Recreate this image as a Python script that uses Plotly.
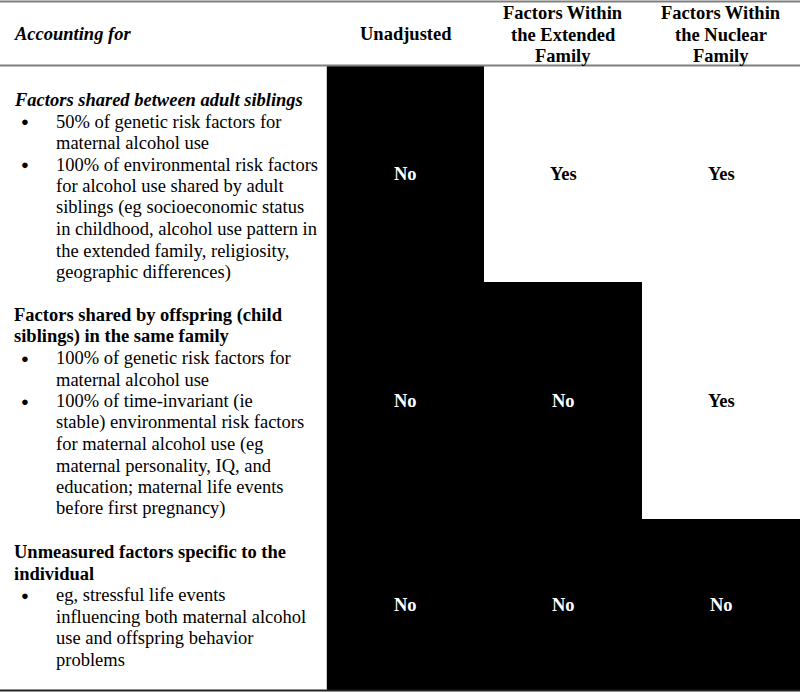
import plotly.graph_objects as go

# ---- data ----
col_headers = ["Unadjusted", "Factors Within<br>the Extended<br>Family", "Factors Within<br>the Nuclear<br>Family"]
corner_header = "Accounting for"
row_headings = [
    ["Factors shared between adult siblings"],
    ["Factors shared by offspring (child", "siblings) in the same family"],
    ["Unmeasured factors specific to the", "individual"],
]
row_heading_italic = [True, False, False]
row_bullets = [
    [["50% of genetic risk factors for", "maternal alcohol use"],
     ["100% of environmental risk factors", "for alcohol use shared by adult",
      "siblings (eg socioeconomic status", "in childhood, alcohol use pattern in",
      "the extended family, religiosity,", "geographic differences)"]],
    [["100% of genetic risk factors for", "maternal alcohol use"],
     ["100% of time-invariant (ie", "stable) environmental risk factors",
      "for maternal alcohol use (eg", "maternal personality, IQ, and",
      "education; maternal life events", "before first pregnancy)"]],
    [["eg, stressful life events", "influencing both maternal alcohol",
      "use and offspring behavior", "problems"]],
]
cell_values = [
    ["No", "Yes", "Yes"],
    ["No", "No", "Yes"],
    ["No", "No", "No"],
]

# ---- layout constants (pixel space) ----
W, H = 800, 692
col_edges = [327, 484, 642, 800]
row_edges = [66, 282, 519, 690]
row_text_start = [100, 315, 552]
line_step = 21.5
FONT = "Liberation Serif"
FS = 18.5

z = [[1 if v == "No" else 0 for v in row] for row in cell_values]

fig = go.Figure()
fig.add_trace(go.Heatmap(
    x=col_edges, y=row_edges, z=z,
    colorscale=[[0, "white"], [1, "black"]], zmin=0, zmax=1,
    showscale=False, hoverinfo="skip", xgap=0, ygap=0,
))

ann = []
def add(text, x, y, xanchor="left", color="black", size=FS):
    ann.append(dict(text=text, x=x, y=y, xref="x", yref="y", xanchor=xanchor,
                    yanchor="middle", showarrow=False,
                    font=dict(family=FONT, size=size, color=color)))

# header
add("<b><i>" + corner_header + "</i></b>", 12, 34)
for j, h in enumerate(col_headers):
    cx = (col_edges[j] + col_edges[j + 1]) / 2
    lines = h.split("<br>")
    if len(lines) == 1:
        add("<b>" + lines[0] + "</b>", cx, 34, "center")
    else:
        for k, ln in enumerate(lines):
            add("<b>" + ln + "</b>", cx, 13 + k * 21.5, "center")

# row labels
for i in range(3):
    y = row_text_start[i]
    for ln in row_headings[i]:
        t = "<b><i>" + ln + "</i></b>" if row_heading_italic[i] else "<b>" + ln + "</b>"
        add(t, 12, y)
        y += line_step
    for bullet in row_bullets[i]:
        add("●", 25, y, "center", size=13)
        for ln in bullet:
            add(ln, 54, y)
            y += line_step

# cell values
for i in range(3):
    cy = (row_edges[i] + row_edges[i + 1]) / 2
    for j in range(3):
        cx = (col_edges[j] + col_edges[j + 1]) / 2
        v = cell_values[i][j]
        add("<b>" + v + "</b>", cx, cy, "center", "white" if v == "No" else "black")

shapes = [
    dict(type="line", xref="x", yref="y", x0=0, x1=W, y0=1.5, y1=1.5, line=dict(color="#7f7f7f", width=2)),
    dict(type="line", xref="x", yref="y", x0=0, x1=W, y0=65.5, y1=65.5, line=dict(color="#7f7f7f", width=2)),
    dict(type="line", xref="x", yref="y", x0=0, x1=W, y0=690.5, y1=690.5, line=dict(color="#222222", width=2)),
    dict(type="line", xref="x", yref="y", x0=326.5, x1=326.5, y0=67, y1=689, line=dict(color="#c8c8c8", width=1)),
]

fig.update_layout(
    width=W, height=H, margin=dict(l=0, r=0, t=0, b=0),
    paper_bgcolor="white", plot_bgcolor="white",
    xaxis=dict(range=[0, W], visible=False, fixedrange=True),
    yaxis=dict(range=[H, 0], visible=False, fixedrange=True),
    annotations=ann, shapes=shapes, showlegend=False,
)
fig.write_html("out.html", config={"displayModeBar": False},
               post_script="document.body.style.margin='0';document.body.style.overflow='hidden';")
